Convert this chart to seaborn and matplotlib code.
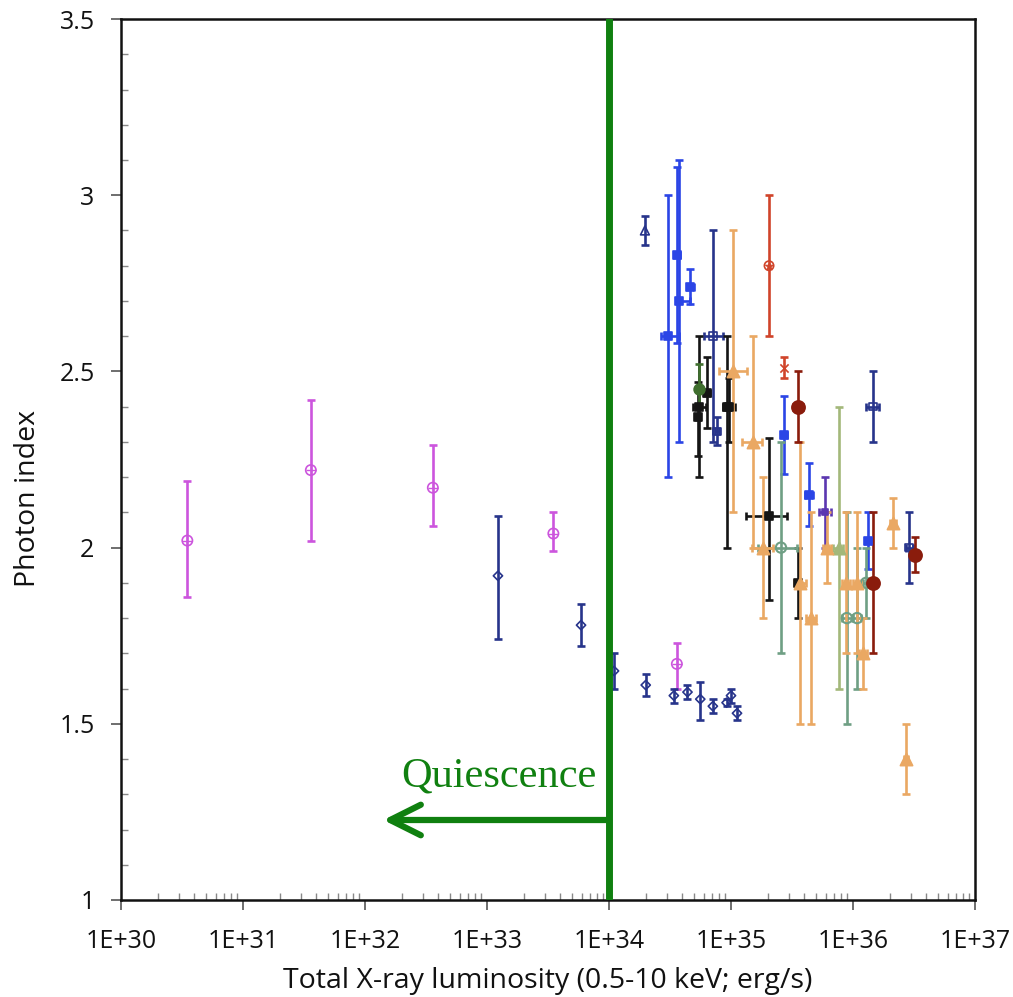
import numpy as np
import matplotlib
matplotlib.use("Agg")
import matplotlib.pyplot as plt
import seaborn as sns
from matplotlib.ticker import FixedLocator, LogLocator, MultipleLocator, FuncFormatter, NullFormatter

# ---------------------------------------------------------------------------
# Photon index vs. total X-ray luminosity (0.5-10 keV), one block per source
# L = luminosity (erg/s), G = photon index, *_GLO/*_GHI = index error range,
# *_LLO/*_LHI = luminosity error range
# ---------------------------------------------------------------------------
MAG_L = [3.5e30, 3.6e31, 3.6e32, 3.5e33, 3.6e34]
MAG_G = [2.02, 2.22, 2.17, 2.04, 1.67]
MAG_GLO = [1.86, 2.02, 2.06, 1.99, 1.60]
MAG_GHI = [2.19, 2.42, 2.29, 2.10, 1.73]

NAVYD_L = [1.23e33, 5.9e33, 1.10e34, 2.0e34, 3.4e34, 4.4e34, 5.6e34, 7.1e34, 9.2e34, 1.0e35, 1.12e35]
NAVYD_G = [1.92, 1.78, 1.65, 1.61, 1.58, 1.59, 1.57, 1.55, 1.56, 1.58, 1.53]
NAVYD_GLO = [1.74, 1.72, 1.60, 1.58, 1.56, 1.57, 1.51, 1.53, 1.55, 1.56, 1.51]
NAVYD_GHI = [2.09, 1.84, 1.70, 1.64, 1.60, 1.61, 1.62, 1.57, 1.57, 1.60, 1.55]

NAVYT_L = [1.97e34]
NAVYT_G = [2.90]
NAVYT_GLO = [2.86]
NAVYT_GHI = [2.94]

NAVYS_L = [7.1e34, 7.67e34, 1.46e36, 2.88e36]
NAVYS_G = [2.60, 2.33, 2.40, 2.00]
NAVYS_GLO = [2.30, 2.29, 2.30, 1.90]
NAVYS_GHI = [2.90, 2.37, 2.50, 2.10]
NAVYS_LLO = [6.0e34, 7.4e34, 1.28e36, 2.72e36]
NAVYS_LHI = [8.6e34, 7.9e34, 1.63e36, 3.08e36]

BLUE_L = [3.05e34, 3.61e34, 3.75e34, 4.61e34, 2.72e35, 4.36e35, 1.33e36]
BLUE_G = [2.60, 2.83, 2.70, 2.74, 2.32, 2.15, 2.02]
BLUE_GLO = [2.20, 2.58, 2.30, 2.69, 2.21, 2.06, 1.94]
BLUE_GHI = [3.00, 3.08, 3.10, 2.79, 2.43, 2.24, 2.10]
BLUE_LLO = [2.65e34, 3.4e34, 3.61e34, 4.36e34, 2.6e35, 4.05e35, 1.25e36]
BLUE_LHI = [3.75e34, 3.85e34, 4.61e34, 5.0e34, 2.9e35, 4.7e35, 1.42e36]

RED_L = [2.05e35]
RED_G = [2.80]
RED_GLO = [2.60]
RED_GHI = [3.00]

REDX_L = [2.72e35]
REDX_G = [2.51]
REDX_GLO = [2.48]
REDX_GHI = [2.54]

MAROON_L = [3.54e35, 1.46e36, 3.22e36]
MAROON_G = [2.40, 1.90, 1.98]
MAROON_GLO = [2.30, 1.70, 1.93]
MAROON_GHI = [2.50, 2.10, 2.03]
MAROON_LLO = [3.2e35, 1.40e36, 3.05e36]
MAROON_LHI = [3.9e35, 1.52e36, 3.4e36]

BLACK_L = [5.47e34, 5.40e34, 6.35e34, 9.2e34, 9.6e34, 2.05e35, 3.54e35]
BLACK_G = [2.40, 2.37, 2.44, 2.40, 2.40, 2.09, 1.90]
BLACK_GLO = [2.20, 2.26, 2.34, 2.00, 2.30, 1.85, 1.80]
BLACK_GHI = [2.60, 2.47, 2.54, 2.60, 2.48, 2.31, 2.00]
BLACK_LLO = [4.9e34, 5.2e34, 6.0e34, 8.6e34, 9.3e34, 1.33e35, 3.4e35]
BLACK_LHI = [6.2e34, 5.6e34, 6.7e34, 1.08e35, 9.9e34, 2.88e35, 3.7e35]

DGREEN_L = [5.47e34]
DGREEN_G = [2.45]
DGREEN_GLO = [2.40]
DGREEN_GHI = [2.52]

TEAL_L = [2.57e35, 8.9e35, 1.08e36, 1.28e36]
TEAL_G = [2.00, 1.80, 1.80, 1.90]
TEAL_GLO = [1.70, 1.50, 1.60, 1.80]
TEAL_GHI = [2.30, 2.10, 2.00, 2.00]
TEAL_LLO = [1.67e35, 8.1e35, 1.0e36, 1.2e36]
TEAL_LHI = [3.50e35, 9.8e35, 1.17e36, 1.37e36]

LGREEN_L = [7.67e35]
LGREEN_G = [2.00]
LGREEN_GLO = [1.60]
LGREEN_GHI = [2.40]
LGREEN_LLO = [6.9e35]
LGREEN_LHI = [8.3e35]

PURPLE_L = [5.89e35]
PURPLE_G = [2.10]
PURPLE_GLO = [2.00]
PURPLE_GHI = [2.20]
PURPLE_LLO = [5.3e35]
PURPLE_LHI = [6.6e35]

ORANGE_L = [1.04e35, 1.51e35, 1.83e35, 3.68e35, 4.53e35, 6.12e35, 8.77e35, 1.08e36, 1.21e36, 2.13e36, 2.72e36]
ORANGE_G = [2.50, 2.30, 2.00, 1.90, 1.80, 2.00, 1.90, 1.90, 1.70, 2.07, 1.40]
ORANGE_GLO = [2.10, 2.00, 1.80, 1.50, 1.50, 1.90, 1.70, 1.70, 1.60, 2.00, 1.30]
ORANGE_GHI = [2.90, 2.60, 2.20, 2.30, 2.10, 2.10, 2.10, 2.10, 1.80, 2.14, 1.50]
ORANGE_LLO = [8.0e34, 1.24e35, 1.49e35, 3.3e35, 4.1e35, 5.7e35, 8.1e35, 1.0e36, 1.13e36, 2.0e36, 2.6e36]
ORANGE_LHI = [1.34e35, 1.79e35, 2.21e35, 4.1e35, 5.0e35, 6.6e35, 9.5e35, 1.17e36, 1.3e36, 2.27e36, 2.85e36]

X_MAJOR = [1e30, 1e31, 1e32, 1e33, 1e34, 1e35, 1e36, 1e37]
Y_MAJOR = [1.0, 1.5, 2.0, 2.5, 3.0, 3.5]
QUIESCENCE_L = 1e34

GREEN = "#108010"
FONT = ["Open Sans", "DejaVu Sans"]

sns.set_style("ticks")
plt.rcParams["font.family"] = FONT

fig = plt.figure(figsize=(10.13, 9.97), dpi=100)
ax = fig.add_axes([0.1194, 0.0973, 0.8431, 0.8836])


def draw(L, G, glo, ghi, color, marker, size, open_marker=False,
         llo=None, lhi=None, lw=1.2, bar_color=None, bar=True):
    L = np.asarray(L, float)
    G = np.asarray(G, float)
    if bar:
        yerr = [G - np.asarray(glo), np.asarray(ghi) - G]
        xerr = None
        if llo is not None:
            xerr = [L - np.asarray(llo), np.asarray(lhi) - L]
        ax.errorbar(L, G, yerr=yerr, xerr=xerr, fmt="none",
                    ecolor=bar_color or color, elinewidth=1.9,
                    capsize=3.2, capthick=1.9, zorder=2)
    if open_marker:
        sns.scatterplot(x=L, y=G, ax=ax, marker=marker, s=size,
                        color=color, facecolor="none", edgecolor=color,
                        linewidth=lw, zorder=3)
    else:
        sns.scatterplot(x=L, y=G, ax=ax, marker=marker, s=size,
                        color=color, edgecolor=color, linewidth=lw, zorder=3)


# boundary of the quiescent regime
ax.axvline(QUIESCENCE_L, color=GREEN, lw=5, zorder=4)

draw(MAG_L, MAG_G, MAG_GLO, MAG_GHI, "#cc55dd", "o", 55, open_marker=True)
draw(MAG_L, MAG_G, MAG_GLO, MAG_GHI, "#cc55dd", "+", 45, bar=False, lw=1.0)
draw(NAVYD_L, NAVYD_G, NAVYD_GLO, NAVYD_GHI, "#27348b", "D", 22, open_marker=True)
draw(NAVYT_L, NAVYT_G, NAVYT_GLO, NAVYT_GHI, "#27348b", "^", 40, open_marker=True)
draw(NAVYS_L, NAVYS_G, NAVYS_GLO, NAVYS_GHI, "#27348b", "s", 30, open_marker=True,
     llo=NAVYS_LLO, lhi=NAVYS_LHI)
draw(BLUE_L, BLUE_G, BLUE_GLO, BLUE_GHI, "#2b45e6", "s", 28,
     llo=BLUE_LLO, lhi=BLUE_LHI)
draw(RED_L, RED_G, RED_GLO, RED_GHI, "#d0442a", "o", 45, open_marker=True)
draw(RED_L, RED_G, RED_GLO, RED_GHI, "#d0442a", "*", 40, bar=False, lw=0.6)
draw(REDX_L, REDX_G, REDX_GLO, REDX_GHI, "#d0442a", "x", 35)
draw(BLACK_L, BLACK_G, BLACK_GLO, BLACK_GHI, "#151515", "s", 30,
     llo=BLACK_LLO, lhi=BLACK_LHI)
draw(DGREEN_L, DGREEN_G, DGREEN_GLO, DGREEN_GHI, "#3f6f2e", "o", 60)
draw(TEAL_L, TEAL_G, TEAL_GLO, TEAL_GHI, "#6f9f84", "o", 55, open_marker=True,
     llo=TEAL_LLO, lhi=TEAL_LHI, lw=1.5)
draw(LGREEN_L, LGREEN_G, LGREEN_GLO, LGREEN_GHI, "#a3b87a", "^", 80,
     llo=LGREEN_LLO, lhi=LGREEN_LHI)
draw(PURPLE_L, PURPLE_G, PURPLE_GLO, PURPLE_GHI, "#5b37b0", "s", 25,
     llo=PURPLE_LLO, lhi=PURPLE_LHI)
draw(ORANGE_L, ORANGE_G, ORANGE_GLO, ORANGE_GHI, "#eaa863", "^", 78,
     llo=ORANGE_LLO, lhi=ORANGE_LHI)
draw(MAROON_L, MAROON_G, MAROON_GLO, MAROON_GHI, "#8a1c0c", "o", 90,
     llo=MAROON_LLO, lhi=MAROON_LHI)

# quiescence annotation
ax.annotate("", xy=(10 ** 32.15, 1.227), xytext=(QUIESCENCE_L, 1.227),
            arrowprops=dict(arrowstyle="->,head_length=1.1,head_width=0.55",
                            lw=4.5, color=GREEN, mutation_scale=20,
                            shrinkA=0, shrinkB=0, capstyle="round",
                            joinstyle="round"),
            zorder=4)
ax.text(10 ** 33.098, 1.321, "Quiescence", color=GREEN, fontsize=30.5,
        family=["Liberation Serif", "DejaVu Serif"], ha="center",
        va="baseline", zorder=5)

# axes
ax.set_xscale("log")
ax.set_xlim(X_MAJOR[0], X_MAJOR[-1])
ax.set_ylim(Y_MAJOR[0], Y_MAJOR[-1])
ax.xaxis.set_major_locator(FixedLocator(X_MAJOR))
ax.xaxis.set_major_formatter(FuncFormatter(lambda v, p: "1E+%d" % round(np.log10(v))))
ax.xaxis.set_minor_locator(LogLocator(base=10, subs=np.arange(2, 10), numticks=50))
ax.xaxis.set_minor_formatter(NullFormatter())
ax.yaxis.set_major_locator(FixedLocator(Y_MAJOR))
ax.yaxis.set_major_formatter(FuncFormatter(lambda v, p: "%g" % v))
ax.yaxis.set_minor_locator(MultipleLocator(0.1))

ax.tick_params(which="major", direction="out", length=7, width=1.2,
               color="#555555", labelsize=18, labelcolor="#111111")
ax.tick_params(axis="x", which="major", pad=14)
ax.tick_params(axis="y", which="major", pad=12)
ax.tick_params(which="minor", direction="in", length=5, width=1.0, color="#888888")

for side in ["left", "right", "top", "bottom"]:
    ax.spines[side].set_visible(True)
    ax.spines[side].set_color("#111111")
    ax.spines[side].set_linewidth(1.8)

ax.set_xlabel("Total X-ray luminosity (0.5-10 keV; erg/s)", fontsize=20.5,
              color="#111111", labelpad=9)
ax.set_ylabel("Photon index", fontsize=20.5, color="#111111")
ax.yaxis.set_label_coords(-0.093, 0.456)

fig.savefig("out.png", dpi=100, facecolor="white")
